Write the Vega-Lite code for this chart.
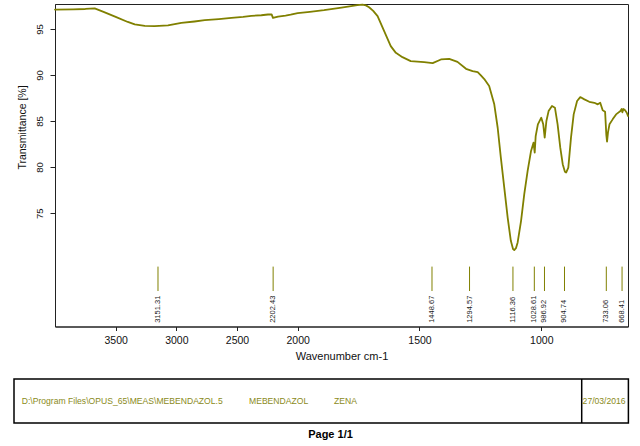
{
  "$schema": "https://vega.github.io/schema/vega-lite/v6.json",
  "padding": {"left": 13, "top": 3, "right": 10, "bottom": 0},
  "background": "white",
  "config": {
    "font": "Liberation Sans",
    "view": {"stroke": "#222", "strokeWidth": 1},
    "concat": {"spacing": 16},
    "axis": {"domainColor": "#222", "tickColor": "#222", "labelColor": "#111", "titleColor": "#111", "titleFontWeight": "normal", "grid": false}
  },
  "datasets": {
    "spectrum": [
      {"wn": 4000, "t": 97.1}, {"wn": 3850, "t": 97.12}, {"wn": 3750, "t": 97.16}, {"wn": 3673, "t": 97.22},
      {"wn": 3600, "t": 96.85}, {"wn": 3500, "t": 96.3}, {"wn": 3400, "t": 95.75}, {"wn": 3343, "t": 95.48},
      {"wn": 3260, "t": 95.33}, {"wn": 3179, "t": 95.29}, {"wn": 3069, "t": 95.37}, {"wn": 2959, "t": 95.65},
      {"wn": 2850, "t": 95.8}, {"wn": 2766, "t": 95.94}, {"wn": 2650, "t": 96.06}, {"wn": 2546, "t": 96.19},
      {"wn": 2450, "t": 96.3}, {"wn": 2382, "t": 96.41}, {"wn": 2300, "t": 96.48}, {"wn": 2245, "t": 96.56},
      {"wn": 2215, "t": 96.58}, {"wn": 2204, "t": 96.19}, {"wn": 2162, "t": 96.34}, {"wn": 2100, "t": 96.45},
      {"wn": 2058, "t": 96.55}, {"wn": 2000, "t": 96.72}, {"wn": 1950, "t": 96.85}, {"wn": 1892, "t": 97.03},
      {"wn": 1820, "t": 97.3}, {"wn": 1755, "t": 97.57}, {"wn": 1734, "t": 97.64}, {"wn": 1720, "t": 97.55},
      {"wn": 1707, "t": 97.35}, {"wn": 1690, "t": 96.95}, {"wn": 1672, "t": 96.38}, {"wn": 1645, "t": 94.75},
      {"wn": 1618, "t": 93.13}, {"wn": 1597, "t": 92.4}, {"wn": 1570, "t": 91.93}, {"wn": 1536, "t": 91.5},
      {"wn": 1481, "t": 91.39}, {"wn": 1446, "t": 91.28}, {"wn": 1412, "t": 91.68}, {"wn": 1378, "t": 91.75},
      {"wn": 1344, "t": 91.42}, {"wn": 1309, "t": 90.67}, {"wn": 1282, "t": 90.42}, {"wn": 1261, "t": 90.3},
      {"wn": 1248, "t": 89.95}, {"wn": 1234, "t": 89.55}, {"wn": 1214, "t": 88.79}, {"wn": 1193, "t": 86.81},
      {"wn": 1179, "t": 84.27}, {"wn": 1166, "t": 81.02}, {"wn": 1152, "t": 77.77}, {"wn": 1138, "t": 74.52},
      {"wn": 1125, "t": 72.0}, {"wn": 1116, "t": 71.1}, {"wn": 1111, "t": 70.99}, {"wn": 1104, "t": 71.2},
      {"wn": 1097, "t": 71.82}, {"wn": 1083, "t": 74.17}, {"wn": 1070, "t": 77.05}, {"wn": 1056, "t": 79.58},
      {"wn": 1042, "t": 81.75}, {"wn": 1032, "t": 82.65}, {"wn": 1027, "t": 81.56}, {"wn": 1023, "t": 83.37},
      {"wn": 1014, "t": 84.64}, {"wn": 1000, "t": 85.36}, {"wn": 992, "t": 84.64}, {"wn": 986, "t": 83.19},
      {"wn": 979, "t": 85.0}, {"wn": 970, "t": 86.08}, {"wn": 956, "t": 86.63}, {"wn": 944, "t": 86.45},
      {"wn": 933, "t": 84.64}, {"wn": 922, "t": 82.11}, {"wn": 912, "t": 80.31}, {"wn": 903, "t": 79.5},
      {"wn": 898, "t": 79.41}, {"wn": 889, "t": 79.95}, {"wn": 878, "t": 83.19}, {"wn": 867, "t": 85.72},
      {"wn": 853, "t": 87.17}, {"wn": 840, "t": 87.6}, {"wn": 823, "t": 87.35}, {"wn": 803, "t": 87.09},
      {"wn": 782, "t": 86.98}, {"wn": 768, "t": 86.81}, {"wn": 758, "t": 86.98}, {"wn": 748, "t": 86.16},
      {"wn": 738, "t": 86.01}, {"wn": 733, "t": 83.5}, {"wn": 730, "t": 82.76}, {"wn": 726, "t": 83.8},
      {"wn": 720, "t": 84.64}, {"wn": 707, "t": 85.18}, {"wn": 693, "t": 85.72}, {"wn": 675, "t": 86.08},
      {"wn": 670, "t": 86.3}, {"wn": 667, "t": 85.95}, {"wn": 663, "t": 86.3}, {"wn": 656, "t": 86.16},
      {"wn": 649, "t": 85.9}, {"wn": 644, "t": 85.55}
    ],
    "peaks": [
      {"wn": 3151.31}, {"wn": 2202.43}, {"wn": 1448.67}, {"wn": 1294.57}, {"wn": 1116.36},
      {"wn": 1028.61}, {"wn": 986.92}, {"wn": 904.74}, {"wn": 733.06}, {"wn": 668.41}
    ],
    "footer": [
      {"field": "file", "text": "D:\\Program Files\\OPUS_65\\MEAS\\MEBENDAZOL.5"},
      {"field": "sample", "text": "MEBENDAZOL"},
      {"field": "operator", "text": "ZENA"},
      {"field": "date", "text": "27/03/2016"}
    ]
  },
  "vconcat": [
    {
      "width": 573,
      "height": 322.5,
      "encoding": {
        "x": {
          "field": "wn", "type": "quantitative",
          "scale": {"domain": [4000, 2000, 644], "range": [0, 242.7, 573], "nice": false, "zero": false},
          "axis": {"values": [3500, 3000, 2500, 2000, 1500, 1000], "format": "d", "title": "Wavenumber cm-1",
                   "labelFontSize": 10.5, "titleFontSize": 11, "tickSize": 4, "labelPadding": 5, "titlePadding": 4, "labelFlush": false}
        }
      },
      "layer": [
        {
          "data": {"name": "spectrum"},
          "mark": {"type": "line", "color": "#808000", "strokeWidth": 1.8, "strokeJoin": "round", "strokeCap": "round"},
          "encoding": {
            "y": {
              "field": "t", "type": "quantitative",
              "scale": {"domain": [62.7, 97.7], "nice": false, "zero": false},
              "axis": {"values": [75, 80, 85, 90, 95], "title": "Transmittance [%]", "labelAngle": 270,
                       "labelFontSize": 9.5, "titleFontSize": 10.5, "tickSize": 5, "labelPadding": 6,
                       "titlePadding": 7, "titleY": 123, "labelFlush": false}
            }
          }
        },
        {
          "data": {"name": "peaks"},
          "mark": {"type": "rule", "color": "#808000", "strokeWidth": 1},
          "encoding": {"y": {"datum": 69.2}, "y2": {"datum": 66.55}}
        },
        {
          "data": {"name": "peaks"},
          "mark": {"type": "text", "angle": 270, "align": "left", "baseline": "middle", "fontSize": 7.5, "color": "#222"},
          "encoding": {"y": {"datum": 63.1}, "text": {"field": "wn", "type": "quantitative", "format": ".2f"}}
        }
      ]
    },
    {
      "width": 573,
      "height": 44,
      "view": {"stroke": null},
      "title": {"text": "Page 1/1", "orient": "bottom", "fontSize": 11, "fontWeight": "bold", "color": "#000", "offset": 5, "dx": -11},
      "data": {"name": "footer"},
      "encoding": {
        "x": {"type": "quantitative", "scale": {"domain": [0, 573], "nice": false, "zero": false}, "axis": null},
        "y": {"type": "quantitative", "scale": {"domain": [0, 44], "nice": false, "zero": false}, "axis": null}
      },
      "layer": [
        {
          "transform": [{"filter": "datum.field == 'file'"}],
          "mark": {"type": "rect", "fill": null, "stroke": "#000", "strokeWidth": 1.5},
          "encoding": {"x": {"datum": -41}, "x2": {"datum": 573.4}, "y": {"datum": 0}, "y2": {"datum": 44}}
        },
        {
          "transform": [{"filter": "datum.field == 'date'"}],
          "mark": {"type": "rule", "color": "#000", "strokeWidth": 1.5},
          "encoding": {"x": {"datum": 526.7}, "y": {"datum": 0}, "y2": {"datum": 44}}
        },
        {
          "transform": [{"filter": "datum.field == 'file'"}],
          "mark": {"type": "text", "align": "left", "baseline": "middle", "fontSize": 8.6, "color": "#8a8a1a"},
          "encoding": {"x": {"datum": -33.3}, "y": {"datum": 22}, "text": {"field": "text"}}
        },
        {
          "transform": [{"filter": "datum.field == 'sample'"}],
          "mark": {"type": "text", "align": "left", "baseline": "middle", "fontSize": 8.6, "color": "#8a8a1a"},
          "encoding": {"x": {"datum": 194}, "y": {"datum": 22}, "text": {"field": "text"}}
        },
        {
          "transform": [{"filter": "datum.field == 'operator'"}],
          "mark": {"type": "text", "align": "left", "baseline": "middle", "fontSize": 8.6, "color": "#8a8a1a"},
          "encoding": {"x": {"datum": 279}, "y": {"datum": 22}, "text": {"field": "text"}}
        },
        {
          "transform": [{"filter": "datum.field == 'date'"}],
          "mark": {"type": "text", "align": "left", "baseline": "middle", "fontSize": 8.6, "color": "#8a8a1a"},
          "encoding": {"x": {"datum": 527.6}, "y": {"datum": 22}, "text": {"field": "text"}}
        }
      ]
    }
  ]
}
